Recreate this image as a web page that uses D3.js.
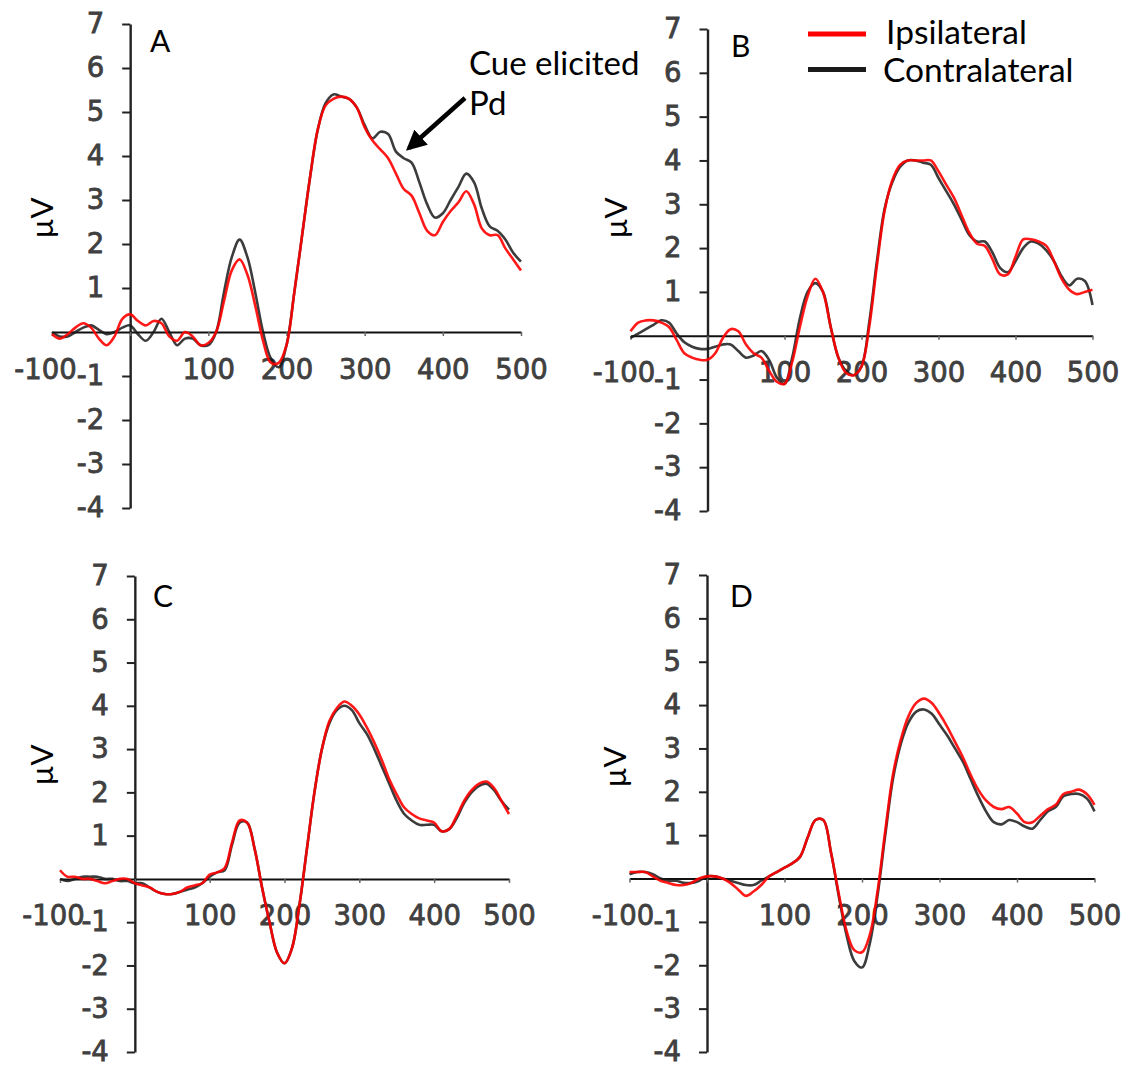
<!DOCTYPE html>
<html>
<head>
<meta charset="utf-8">
<script src="https://cdn.jsdelivr.net/npm/d3@7"></script>
<style>
  body { margin: 0; background: #fff; }
  svg { display: block; }
  .tick text { font-family: "DejaVu Sans", Verdana, sans-serif; font-size: 27.5px; fill: #404040; stroke: #404040; stroke-width: 0.8px; }
  .lbl { font-family: Lato, "Open Sans", sans-serif; fill: #000; }
</style>
</head>
<body>
<div id="chart"></div>
<script>
// time points (ms), one every 10 ms
const times = d3.range(-100, 501, 10)

const yTicks = [-4, -3, -2, -1, 1, 2, 3, 4, 5, 6, 7]
const xTicks = [-100, 0, 100, 200, 300, 400, 500]
const panelNames = ['A', 'B', 'C', 'D']
const seriesNames = ['Ipsilateral', 'Contralateral']

// panel A
const aIpsi = [-0.05, -0.15, -0.05, 0.1, 0.2, 0.1, -0.15, -0.3, -0.1, 0.3,
  0.4, 0.25, 0.15, 0.25, 0.2, -0.1, -0.2, 0.0, -0.1, -0.3,
  -0.25, 0.0, 0.7, 1.4, 1.65, 1.3, 0.6, -0.2, -0.7, -0.7,
  -0.3, 0.9, 2.2, 3.5, 4.6, 5.15, 5.3, 5.35, 5.3, 5.1,
  4.65, 4.35, 4.15, 3.95, 3.6, 3.25, 3.1, 2.7, 2.3, 2.2,
  2.5, 2.75, 2.95, 3.2, 2.9, 2.35, 2.2, 2.2, 1.9, 1.65, 1.4]
const aContra = [0.0, -0.1, -0.1, 0.0, 0.1, 0.15, 0.05, -0.05, 0.0, 0.1,
  0.15, -0.05, -0.2, 0.0, 0.3, 0.0, -0.3, -0.15, -0.15, -0.3,
  -0.3, 0.0, 0.9, 1.7, 2.1, 1.7, 0.9, 0.0, -0.6, -0.8,
  -0.3, 0.9, 2.2, 3.5, 4.6, 5.2, 5.4, 5.35, 5.3, 5.1,
  4.7, 4.4, 4.55, 4.5, 4.1, 3.95, 3.85, 3.4, 2.9, 2.6,
  2.7, 3.0, 3.3, 3.6, 3.4, 2.8, 2.4, 2.3, 2.1, 1.8, 1.6]

// panel B
const bIpsi = [0.1, 0.3, 0.35, 0.35, 0.3, 0.2, -0.1, -0.4, -0.5, -0.55,
  -0.55, -0.4, -0.05, 0.15, 0.1, -0.2, -0.4, -0.5, -0.8, -1.05,
  -1.1, -0.6, 0.2, 0.9, 1.3, 1.0, 0.2, -0.5, -0.85, -0.9,
  -0.7, 0.2, 1.6, 2.85, 3.55, 3.9, 4.0, 4.0, 4.0, 4.0,
  3.75, 3.45, 3.15, 2.75, 2.35, 2.1, 2.05, 1.75, 1.4, 1.4,
  1.8, 2.2, 2.2, 2.15, 2.05, 1.7, 1.3, 1.05, 0.95, 1.0, 1.05]
const bContra = [-0.05, 0.05, 0.15, 0.25, 0.35, 0.3, 0.05, -0.15, -0.25, -0.3,
  -0.3, -0.25, -0.2, -0.2, -0.35, -0.5, -0.45, -0.35, -0.55, -0.95,
  -1.1, -0.5, 0.4, 1.0, 1.2, 1.0, 0.2, -0.5, -0.8, -0.9,
  -0.7, 0.3, 1.7, 2.9, 3.5, 3.85, 4.0, 4.0, 3.95, 3.9,
  3.6, 3.3, 3.0, 2.65, 2.3, 2.15, 2.15, 1.9, 1.55, 1.45,
  1.7, 2.0, 2.15, 2.1, 1.95, 1.7, 1.35, 1.15, 1.3, 1.25, 0.7]

// panel C
const cIpsi = [0.2, 0.05, 0.05, 0.0, 0.0, -0.05, -0.1, -0.05, 0.0, 0.0,
  -0.1, -0.15, -0.2, -0.3, -0.35, -0.35, -0.3, -0.2, -0.15, -0.1,
  0.1, 0.15, 0.25, 0.85, 1.35, 1.3, 0.7, -0.2, -1.0, -1.7,
  -1.95, -1.6, -0.6, 0.7, 2.0, 3.0, 3.65, 3.95, 4.1, 4.0,
  3.8, 3.5, 3.15, 2.75, 2.3, 1.95, 1.65, 1.5, 1.4, 1.35,
  1.3, 1.1, 1.15, 1.45, 1.8, 2.05, 2.2, 2.25, 2.1, 1.8, 1.5]
const cContra = [0.0, -0.05, 0.0, 0.05, 0.05, 0.05, 0.0, 0.0, -0.05, -0.05,
  -0.1, -0.1, -0.2, -0.3, -0.35, -0.35, -0.3, -0.25, -0.2, -0.1,
  0.05, 0.15, 0.2, 0.8, 1.3, 1.3, 0.7, -0.2, -1.0, -1.7,
  -1.95, -1.6, -0.6, 0.7, 2.0, 3.0, 3.6, 3.9, 4.0, 3.9,
  3.6, 3.35, 3.0, 2.6, 2.2, 1.8, 1.5, 1.35, 1.25, 1.25,
  1.25, 1.1, 1.15, 1.4, 1.75, 2.0, 2.15, 2.2, 2.05, 1.8, 1.6]

// panel D
const dIpsi = [0.15, 0.15, 0.15, 0.05, -0.05, -0.1, -0.15, -0.15, -0.1, 0.0,
  0.05, 0.05, 0.0, -0.1, -0.25, -0.4, -0.3, -0.15, 0.05, 0.15,
  0.25, 0.35, 0.5, 0.95, 1.35, 1.35, 0.6, -0.35, -1.2, -1.65,
  -1.7, -1.3, -0.3, 1.1, 2.4, 3.2, 3.75, 4.05, 4.15, 4.05,
  3.8, 3.5, 3.15, 2.8, 2.4, 2.05, 1.8, 1.65, 1.6, 1.65,
  1.5, 1.3, 1.3, 1.45, 1.6, 1.7, 1.95, 2.0, 2.05, 1.95, 1.7]
const dContra = [0.1, 0.15, 0.15, 0.1, 0.0, -0.05, -0.05, -0.1, -0.1, -0.05,
  0.05, 0.05, 0.0, -0.05, -0.1, -0.15, -0.15, -0.05, 0.05, 0.15,
  0.25, 0.35, 0.5, 0.95, 1.35, 1.35, 0.6, -0.4, -1.3, -1.9,
  -2.05, -1.5, -0.4, 1.0, 2.3, 3.1, 3.6, 3.85, 3.9, 3.8,
  3.55, 3.3, 3.0, 2.7, 2.3, 1.9, 1.55, 1.3, 1.25, 1.35,
  1.3, 1.2, 1.15, 1.35, 1.55, 1.65, 1.9, 1.95, 1.95, 1.85, 1.55]

const ipsiData = [aIpsi, bIpsi, cIpsi, dIpsi]
const contraData = [aContra, bContra, cContra, dContra]

const WIDTH = 1135
const HEIGHT = 1068

// where each panel sits on the page
const layout = [
  { x: [52, 521], y: [508, 24], lx: 150, ly: 52, ux: 42, uy: 218 },
  { x: [630.5, 1092.5], y: [511, 29], lx: 731, ly: 57, ux: 616, uy: 218 },
  { x: [60, 509], y: [1052, 576], lx: 153, ly: 607, ux: 42, uy: 765 },
  { x: [629.5, 1094.5], y: [1052, 575], lx: 730, ly: 607, ux: 615, uy: 767 }
]

const colors = { Ipsilateral: '#ff0000', Contralateral: '#1a1a1a' }

// plain hyphen for negatives, like the original
const fmt = d => (d < 0 ? '-' : '') + Math.abs(d)

const svg = d3
  .select('#chart')
  .append('svg')
    .attr('width', WIDTH)
    .attr('height', HEIGHT)

const drawPanel = (i) => {
  const L = layout[i]
  const x = d3.scaleLinear().domain([-100, 500]).range(L.x)
  const y = d3.scaleLinear().domain([-4, 7]).range(L.y)
  const g = svg.append('g')

  // y axis sits on t = 0
  g.append('g')
    .attr('transform', `translate(${x(0)},0)`)
    .call(d3.axisLeft(y).tickValues(yTicks).tickSize(8).tickSizeOuter(0).tickPadding(18).tickFormat(fmt))
    .call(ax => ax.select('.domain').attr('stroke', '#222').attr('stroke-width', 2.4))
    .call(ax => ax.selectAll('.tick line').attr('stroke', '#222').attr('stroke-width', 2))

  // x axis sits on 0 µV
  g.append('g')
    .attr('transform', `translate(0,${y(0)})`)
    .call(d3.axisBottom(x).tickValues(xTicks).tickSize(4).tickSizeOuter(0).tickPadding(23)
      .tickFormat(d => d === 0 ? '' : fmt(d)))
    .call(ax => ax.select('.domain').attr('stroke', '#111').attr('stroke-width', 2))
    .call(ax => ax.selectAll('.tick line').attr('stroke', '#666').attr('stroke-width', 1.5))
    .call(ax => ax.selectAll('.tick text').attr('dx', d => d < 0 ? -7 : 0))

  const line = d3.line()
    .x((d, j) => x(times[j]))
    .y(d => y(d))
    .curve(d3.curveCatmullRom.alpha(0.5))

  g.append('path')
    .datum(contraData[i])
    .attr('fill', 'none')
    .attr('stroke', colors.Contralateral)
    .attr('stroke-width', 2.6)
    .attr('stroke-opacity', 0.85)
    .attr('d', line)

  g.append('path')
    .datum(ipsiData[i])
    .attr('fill', 'none')
    .attr('stroke', colors.Ipsilateral)
    .attr('stroke-width', 2.6)
    .attr('stroke-opacity', 0.9)
    .attr('d', line)

  g.append('text')
    .attr('class', 'lbl')
    .attr('x', L.lx)
    .attr('y', L.ly)
    .attr('font-size', 30)
    .text(panelNames[i])

  g.append('text')
    .attr('class', 'lbl')
    .attr('transform', `translate(${L.ux},${L.uy}) rotate(-90)`)
    .attr('text-anchor', 'middle')
    .attr('dy', '0.35em')
    .attr('font-size', 31)
    .text('µV')
}

d3.range(4).forEach(drawPanel)

// legend
const legend = svg.append('g')
seriesNames.forEach((name, k) => {
  const ly = [34, 69.5][k]
  legend.append('line')
    .attr('x1', 808).attr('x2', 866)
    .attr('y1', ly).attr('y2', ly)
    .attr('stroke', colors[name])
    .attr('stroke-width', 5)
  legend.append('text')
    .attr('class', 'lbl')
    .attr('x', [886, 883][k])
    .attr('y', [44, 82][k])
    .attr('font-size', 33.5)
    .text(name)
})

// annotation on panel A
svg.append('defs')
  .append('marker')
    .attr('id', 'head')
    .attr('viewBox', '0 0 10 10')
    .attr('refX', 8).attr('refY', 5)
    .attr('markerWidth', 4.5).attr('markerHeight', 4.5)
    .attr('orient', 'auto')
  .append('path')
    .attr('d', 'M0,0 L10,5 L0,10 z')
    .attr('fill', '#000')

svg.append('line')
  .attr('x1', 465).attr('y1', 98)
  .attr('x2', 409).attr('y2', 148)
  .attr('stroke', '#000')
  .attr('stroke-width', 4.5)
  .attr('marker-end', 'url(#head)')

svg.append('text')
  .attr('class', 'lbl')
  .attr('x', 469).attr('y', 75)
  .attr('font-size', 33)
  .text('Cue elicited')

svg.append('text')
  .attr('class', 'lbl')
  .attr('x', 469).attr('y', 115)
  .attr('font-size', 33)
  .text('Pd')
</script>
</body>
</html>
